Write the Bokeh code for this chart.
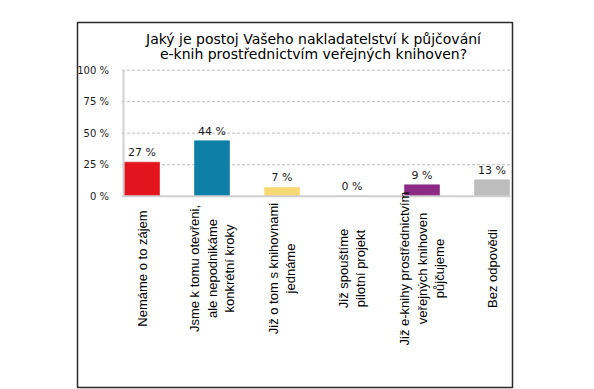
from bokeh.plotting import figure
from bokeh.models import ColumnDataSource, Range1d
from bokeh.core.properties import value
from bokeh.embed import file_html
from bokeh.resources import INLINE

# ---- data ----
title_lines = ["Jaký je postoj Vašeho nakladatelství k půjčování",
               "e-knih prostřednictvím veřejných knihoven?"]
categories = ["Nemáme o to zájem",
              "Jsme k tomu otevřeni,\nale nepodnikáme\nkonkrétní kroky",
              "Již o tom s knihovnami\njednáme",
              "Již spouštíme\npilotní projekt",
              "Již e-knihy prostřednictvím\nveřejných knihoven\npůjčujeme",
              "Bez odpovědi"]
values = [27, 44, 7, 0, 9, 13]
colors = ["#E3141E", "#0E7FA6", "#F8D872", "#CCCCCC", "#8C2A85", "#BDBDBD"]
y_ticks = [0, 25, 50, 75, 100]
y_tick_labels = ["0 %", "25 %", "50 %", "75 %", "100 %"]

# ---- layout (screen-pixel geometry of the frame) ----
W, H = 560, 389
FL, FR, FT, FB = 77, 512, 22, 387          # frame box inside the figure
X0_PX, DX_PX = 141.5, 70.0                 # centre of first category, spacing
Y0_PX, DY_PX = 195.7, 1.26                 # y of 0 %, px per %

def dx(px):
    return (px - X0_PX) / DX_PX

def dy(py):
    return (Y0_PX - py) / DY_PX

p = figure(width=W, height=H, output_backend="svg", toolbar_location=None,
           x_axis_type=None, y_axis_type=None,
           x_range=Range1d(dx(FL), dx(FR)), y_range=Range1d(dy(FB), dy(FT)),
           min_border_left=FL, min_border_right=W - FR,
           min_border_top=FT, min_border_bottom=H - FB)
p.grid.visible = False
p.outline_line_color = "#2b2b2b"
p.outline_line_width = 1.5
p.background_fill_color = "white"
p.border_fill_color = "white"

xs = list(range(len(categories)))
x_axis_left = dx(123)
x_grid_left = dx(121.5)
x_right = dx(510)

# grid lines (dashed), skipping 0
gy = [t for t in y_ticks if t != 0]
p.segment(x0=[x_grid_left] * len(gy), x1=[x_right] * len(gy), y0=gy, y1=gy,
          line_color="#BFBFBF", line_width=1, line_dash="3 2")

# bars
src = ColumnDataSource(dict(x=xs, top=values, color=colors,
                            label=[f"{v} %" for v in values]))
p.vbar(x="x", top="top", bottom=0, width=0.5, fill_color="color",
       line_color="color", line_alpha=0.6, source=src)

# axis lines
p.segment(x0=[x_axis_left], x1=[x_axis_left], y0=[0], y1=[y_ticks[-1]],
          line_color="#D0D0D0", line_width=2)
p.segment(x0=[x_grid_left], x1=[x_right], y0=[0], y1=[0],
          line_color="#CFCFCF", line_width=2)

# value labels
p.text(x="x", y="top", text="label", source=src, text_align="center",
       text_baseline="bottom", y_offset=-3, text_font=value("DejaVu Sans"),
       text_font_size="11px", text_color="#1a1a1a")

# y tick labels
p.text(x=[dx(108.5)] * len(y_ticks), y=y_ticks, text=y_tick_labels,
       text_align="right", text_baseline="middle",
       text_font=value("DejaVu Sans"), text_font_size="10px",
       text_color="#1a1a1a")

# category labels (rotated)
p.text(x=xs, y=[dy(268)] * len(xs), text=categories, angle=1.5707963,
       text_align="center", text_baseline="middle",
       text_font=value("Liberation Sans"), text_font_size="13px",
       text_line_height=1.15, text_color="#000000")

# title
p.text(x=[dx(313)] * 2, y=[dy(38.3), dy(53.5)], text=title_lines,
       text_align="center", text_baseline="alphabetic",
       text_font=value("DejaVu Sans"), text_font_size="14px",
       text_color="#000000")

open("out.html", "w").write(file_html(p, INLINE))
